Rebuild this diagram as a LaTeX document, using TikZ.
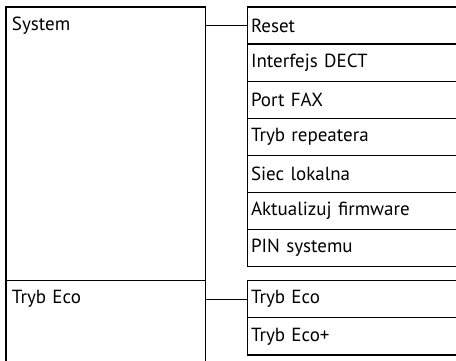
\documentclass[tikz,border=0pt]{standalone}
\usepackage{fontspec}
\setmainfont{PT Sans}
\usetikzlibrary{positioning}
\begin{document}
\begin{tikzpicture}[x=1pt, y=-1pt, every node/.style={font=\fontsize{19}{22}\selectfont},
  item/.style={draw, line width=1.2pt, outer sep=0pt, inner xsep=3.5pt, minimum width=230pt, minimum height=37.1pt, text width=223pt, align=left},
  group/.style={draw, line width=1.2pt, outer sep=0pt, minimum width=199.5pt},
  caption/.style={outer sep=0pt, inner xsep=6pt, minimum height=37.1pt, text width=180pt, align=left}]
\useasboundingbox (0,0) rectangle (456,361);
% left column
\node[group, minimum height=273.6pt, anchor=north west] (sys) at (6,7) {};
\node[caption, anchor=north west] (systxt) at (sys.north west) {System};
\node[group, minimum height=82pt, below=0pt of sys] (eco) {};
\node[caption, anchor=north west] (ecotxt) at (eco.north west) {Tryb Eco};
% right column
\node[item, anchor=north west] (reset) at (247.5,7) {Reset};
\node[item, below=0pt of reset] (dect) {Interfejs DECT};
\node[item, below=0pt of dect] (fax) {Port FAX};
\node[item, below=0pt of fax] (rep) {Tryb repeatera};
\node[item, below=0pt of rep] (lan) {Siec lokalna};
\node[item, below=0pt of lan] (fw) {Aktualizuj firmware};
\node[item, below=0pt of fw] (pin) {PIN systemu};
\node[item, anchor=north west] (eco1) at (247.5,280.7) {Tryb Eco};
\node[item, below=0pt of eco1] (eco2) {Tryb Eco+};
% links
\draw[line width=1pt] (sys.east |- reset.west) -- (reset.west);
\draw[line width=1pt] (eco.east |- eco1.west) -- (eco1.west);
\end{tikzpicture}
\end{document}
